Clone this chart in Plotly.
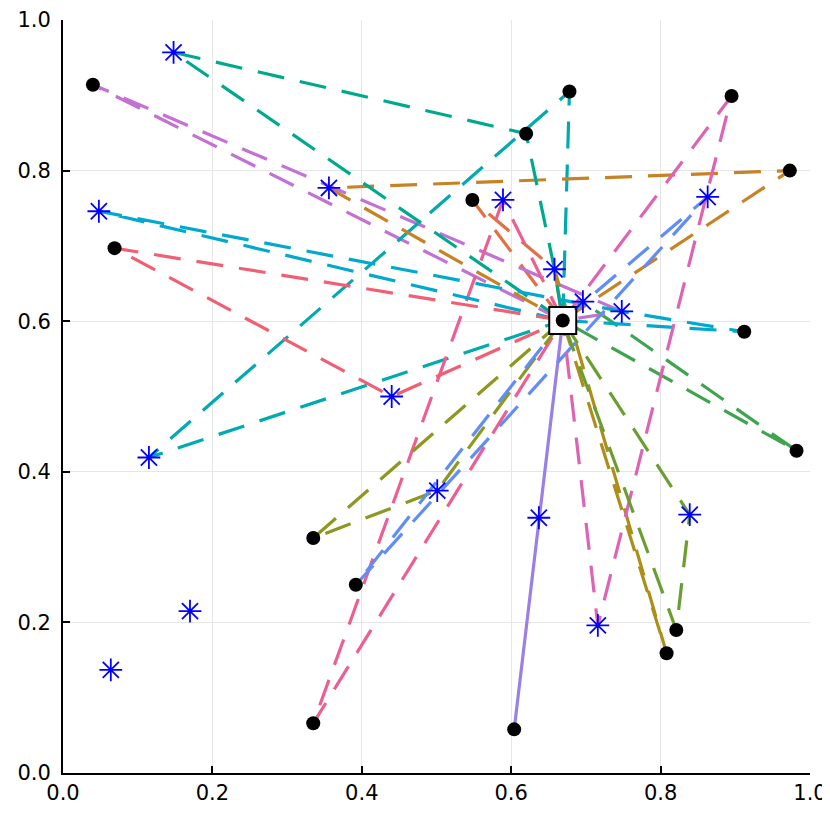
import plotly.graph_objects as go

# depot
depot_x = 0.669
depot_y = 0.601

# customers (black dots)
cust_x = [0.040, 0.069, 0.678, 0.620, 0.895, 0.973, 0.548, 0.912,
          0.982, 0.821, 0.808, 0.604, 0.335, 0.392, 0.335]
cust_y = [0.914, 0.697, 0.905, 0.849, 0.899, 0.800, 0.761, 0.586,
          0.428, 0.190, 0.159, 0.058, 0.312, 0.250, 0.066]

# charging stations (blue stars)
stat_x = [0.148, 0.356, 0.048, 0.440, 0.589, 0.658, 0.696, 0.748,
          0.863, 0.115, 0.170, 0.064, 0.501, 0.637, 0.716, 0.839]
stat_y = [0.957, 0.777, 0.746, 0.500, 0.761, 0.669, 0.626, 0.613,
          0.765, 0.419, 0.215, 0.137, 0.375, 0.339, 0.196, 0.343]

# routes: "D" = depot, "C<n>" = customer n, "S<n>" = station n (1-based)
routes = [
    ["D", "C7", "S6", "D"],
    ["D", "S7", "C9", "D"],
    ["D", "C1", "S8", "D"],
    ["D", "S6", "C11", "D"],
    ["D", "C3", "S10", "D"],
    ["D", "S5", "C15", "D"],
    ["D", "C6", "S2", "D"],
    ["D", "S1", "C4", "S6", "D"],
    ["D", "C13", "S13", "D"],
    ["D", "S3", "S8", "C8", "D"],
    ["D", "C12", "D"],
    ["D", "S9", "C14", "D"],
    ["D", "C2", "S4", "D"],
    ["D", "C5", "S15", "D"],
    ["D", "S16", "C10", "D"],
]

# Plots.jl default palette, entries 2..16
route_colors = ["#E36F47", "#3EA44E", "#C371D2", "#AC8E18", "#00AAAE",
                "#ED5E93", "#C68225", "#00A98D", "#8E971E", "#00A9CD",
                "#9B7FE9", "#618DF6", "#F05F73", "#DD64B5", "#6B9E32"]


def node_xy(name):
    if name == "D":
        return depot_x, depot_y
    i = int(name[1:]) - 1
    if name[0] == "C":
        return cust_x[i], cust_y[i]
    return stat_x[i], stat_y[i]


fig = go.Figure()

for route, col in zip(routes, route_colors):
    xs, ys = zip(*[node_xy(n) for n in route])
    # out-and-back along the same leg renders as a solid line in the original
    there_and_back = route == route[::-1]
    fig.add_trace(go.Scatter(
        x=list(xs), y=list(ys), mode="lines",
        line=dict(color=col, width=3.2,
                  dash="solid" if there_and_back else "27px,16px"),
        hoverinfo="skip"))

fig.add_trace(go.Scatter(
    x=[depot_x], y=[depot_y], mode="markers",
    marker=dict(symbol="square", size=27, color="white",
                line=dict(color="black", width=2))))

fig.add_trace(go.Scatter(
    x=cust_x + [depot_x], y=cust_y + [depot_y], mode="markers",
    marker=dict(symbol="circle", size=14, color="black",
                line=dict(width=0))))

fig.add_trace(go.Scatter(
    x=stat_x, y=stat_y, mode="markers",
    marker=dict(symbol="asterisk-open", size=19, color="#0000FF",
                line=dict(color="#0000FF", width=1.8))))

axis_style = dict(
    range=[0, 1], dtick=0.2, tick0=0, tickformat=".1f",
    showgrid=True, gridcolor="#e6e6e6", gridwidth=1,
    showline=True, linecolor="black", linewidth=2,
    ticks="inside", ticklen=7, tickwidth=1.5, tickcolor="black",
    zeroline=False, mirror=False, automargin=False,
    ticklabeloverflow="allow",
    tickfont=dict(family="DejaVu Sans", size=21, color="black"),
)

# the page body adds an 8px offset, so the figure is shrunk to fit the window
fig.update_layout(
    width=822, height=814,
    margin=dict(l=55, r=20, t=12, b=49),
    paper_bgcolor="white", plot_bgcolor="white",
    showlegend=False,
    xaxis=dict(**axis_style, ticklabelstandoff=0),
    yaxis=dict(**axis_style, ticklabelstandoff=6),
)

fig.write_html("out.html")
